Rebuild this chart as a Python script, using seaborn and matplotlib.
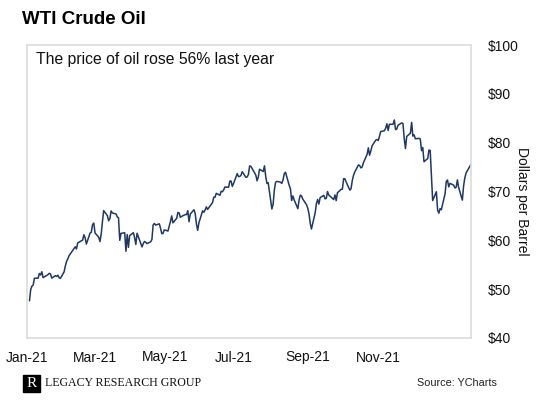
import pandas as pd
import seaborn as sns
import matplotlib
import matplotlib.pyplot as plt
from matplotlib.patches import Rectangle
matplotlib.use('Agg')

# WTI daily closes 2021, one list per month
jan = [47.62, 49.93, 50.63, 50.83, 52.24, 52.25, 53.21, 52.91, 53.57, 52.36,
       52.98, 53.24, 53.13, 52.27, 52.77, 52.61, 52.85, 52.34, 52.20]
feb = [53.55, 54.76, 55.69, 56.23, 56.85, 57.97, 58.36, 58.68, 58.24, 59.47,
       60.05, 61.14, 60.52, 59.24, 61.49, 61.67, 63.22, 63.53, 61.50]
mar = [60.64, 59.75, 61.28, 63.83, 66.09, 65.05, 64.01, 64.44, 66.02, 65.61,
       65.39, 64.80, 64.60, 60.00, 61.42, 61.55, 57.76, 61.18, 58.56, 60.97,
       61.56, 60.55, 59.16]
apr = [61.45, 58.65, 59.33, 59.77, 59.60, 59.32, 59.70, 60.18, 63.15, 63.46,
       63.13, 63.38, 62.44, 61.35, 61.43, 62.14, 61.91, 62.94, 63.86, 65.01,
       63.58]
may = [64.49, 65.69, 65.63, 64.71, 64.90, 65.28, 65.28, 66.08, 63.82, 65.37,
       66.27, 65.49, 63.36, 62.05, 63.58, 66.05, 65.76, 66.21, 66.85, 66.32]
jun = [67.72, 68.83, 68.81, 69.62, 69.23, 70.05, 69.96, 70.29, 70.91, 70.88,
       72.12, 72.15, 71.04, 71.64, 73.66, 73.06, 73.08, 73.30, 74.05, 72.91,
       72.98, 73.47]
jul = [75.23, 75.16, 73.37, 72.20, 72.94, 74.56, 74.10, 75.25, 73.13, 71.65,
       71.81, 66.42, 67.42, 70.30, 71.91, 72.07, 71.91, 71.65, 72.39, 73.62,
       73.95]
aug = [71.26, 70.56, 68.15, 69.09, 68.28, 66.48, 68.29, 69.25, 69.09, 68.44,
       67.29, 66.59, 65.46, 63.50, 62.32, 65.64, 67.54, 68.36, 67.42, 68.74,
       69.21, 68.50]
sep = [68.59, 69.99, 69.29, 68.35, 69.30, 68.14, 69.72, 70.45, 70.46, 72.61,
       72.61, 71.97, 70.29, 70.56, 72.23, 73.30, 73.98, 75.45, 75.29, 74.83,
       75.03]
oct_ = [75.88, 77.62, 78.93, 77.43, 78.30, 79.35, 80.52, 80.64, 80.44, 81.31,
        82.28, 82.44, 82.96, 83.87, 82.50, 83.76, 83.76, 84.65, 82.66, 82.81,
        83.57]
nov = [84.05, 83.91, 80.86, 78.81, 81.27, 81.93, 84.15, 81.34, 81.59, 80.79,
       80.88, 80.76, 78.36, 79.01, 76.10, 76.75, 78.50, 78.39, 68.15, 69.95,
       66.18]
# series in the chart stops just after Christmas
dec = [65.57, 66.50, 66.26, 69.49, 72.05, 72.36, 70.94, 71.67, 71.29, 70.73,
       70.87, 72.38, 70.86, 68.23, 71.12, 72.76, 73.79, 75.57]

# market holidays 2021 (no close on these days)
holidays = ["2021-01-01", "2021-01-18", "2021-02-15", "2021-04-02", "2021-05-31",
            "2021-07-05", "2021-09-06", "2021-11-25", "2021-12-24"]

tick_labels = ["Jan-21", "Mar-21", "May-21", "Jul-21", "Sep-21", "Nov-21"]
y_ticks = [40, 50, 60, 70, 80, 90, 100]

prices = jan + feb + mar + apr + may + jun + jul + aug + sep + oct_ + nov + dec
dates = pd.bdate_range("2021-01-01", "2021-12-27", freq="C", holidays=holidays)
df = pd.DataFrame({"date": dates, "price": prices})

sns.set_style("white")
plt.rcParams['font.family'] = ['Liberation Sans', 'DejaVu Sans']

fig = plt.figure(figsize=(5.6, 4.16), dpi=100)
ax = fig.add_axes([27 / 560, 1 - 338 / 416, 444 / 560, 293 / 416])

sns.lineplot(data=df, x="date", y="price", ax=ax, color="#1f3864", linewidth=1.1)

ax.set_xlim(df["date"].iloc[0], df["date"].iloc[-1])
ax.set_ylim(40, 100)

# label positions follow the original (spread a bit tighter than month starts)
tick_pos = pd.to_datetime(["2021-01-02", "2021-02-26", "2021-04-24",
                           "2021-06-18", "2021-08-17", "2021-10-13"])
ax.set_xticks(tick_pos)
ax.set_xticklabels(tick_labels)
ax.set_yticks(y_ticks)
ax.set_yticklabels([f"${v}" for v in y_ticks])
ax.yaxis.tick_right()
ax.tick_params(axis="both", length=0, labelsize=10, colors="#111111")
ax.tick_params(axis="y", pad=12)
ax.tick_params(axis="x", pad=9)
ax.set_xlabel("")
ax.set_ylabel("")

for s in ax.spines.values():
    s.set_color("#dcdcdc")
    s.set_linewidth(1.2)

ax.text(0.02, 0.95, "The price of oil rose 56% last year", transform=ax.transAxes,
        fontsize=11.3, va="center", ha="left", color="#111111")

fig.text(522 / 560, 1 - 201 / 416, "Dollars per Barrel", rotation=-90,
         ha="center", va="center", fontsize=10, color="#111111")

fig.text(22 / 560, 1 - 20 / 416, "WTI Crude Oil", fontsize=13.5, fontweight="bold",
         ha="left", va="center", color="#000000")

# logo box with R
fig.patches.append(Rectangle((23 / 560, 1 - 392 / 416), 17 / 560, 17 / 416,
                             transform=fig.transFigure, color="black"))
fig.text(31.5 / 560, 1 - 383.5 / 416, "R", family="Liberation Serif", fontsize=11,
         color="white", ha="center", va="center")
fig.text(45 / 560, 1 - 383 / 416, "LEGACY RESEARCH GROUP", family="Liberation Serif",
         fontsize=8.6, ha="left", va="center", color="#111111")

fig.text(497 / 560, 1 - 383 / 416, "Source: YCharts", fontsize=7.8,
         ha="right", va="center", color="#222222")

fig.savefig("out.png", dpi=100)
